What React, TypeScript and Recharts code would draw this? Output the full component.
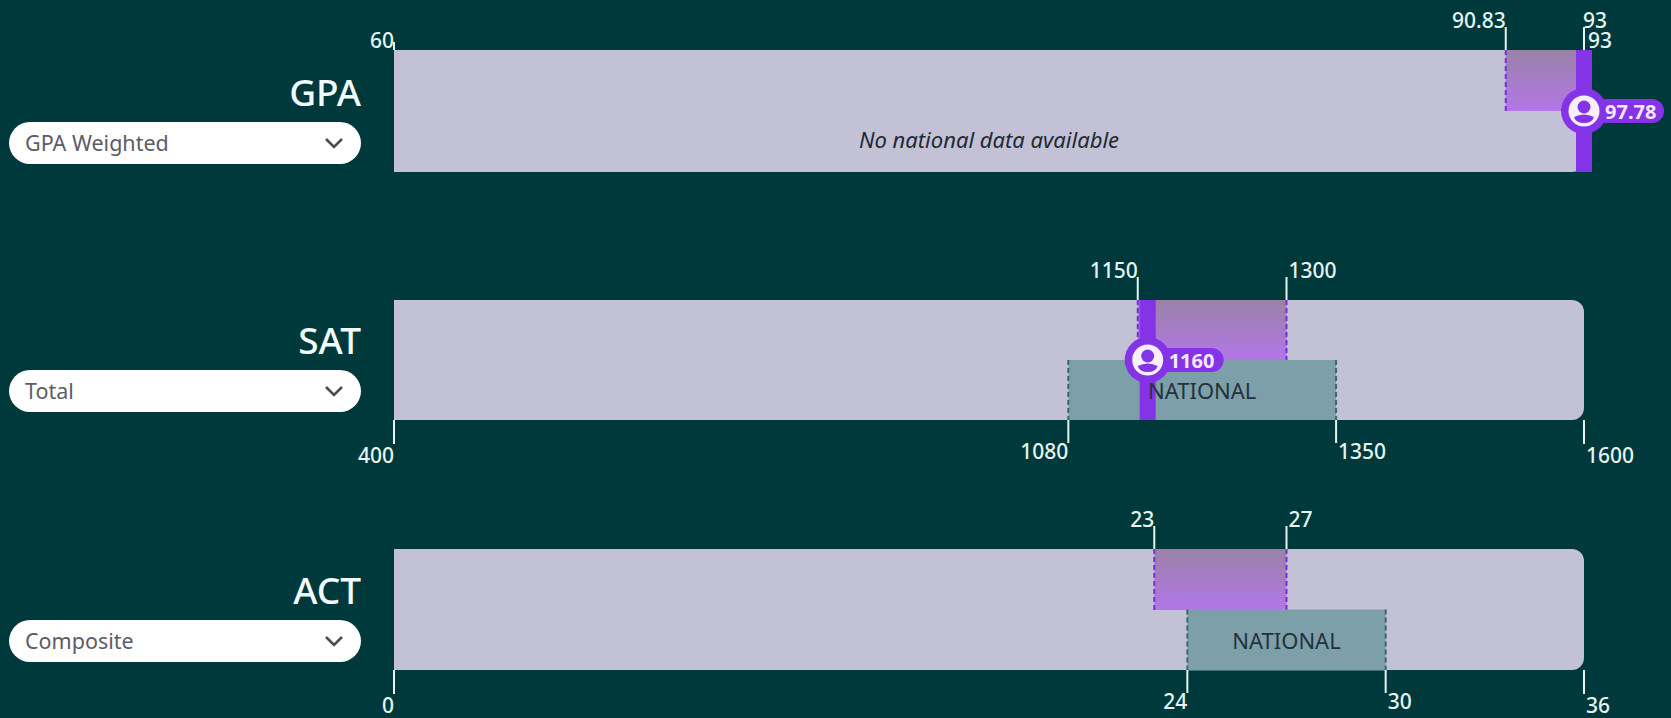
import { BarChart, Bar, XAxis, YAxis, ReferenceArea, ReferenceLine, Rectangle, LabelList } from 'recharts'

const rowNames = ['GPA', 'SAT', 'ACT']
const selectLabels = ['GPA Weighted', 'Total', 'Composite']
const topDomains = [[60, 93], [400, 1600], [0, 36]]
const bottomDomains = [[0.7, 4], [400, 1600], [0, 36]]
const schoolRanges = [[90.83, 93], [1150, 1300], [23, 27]]
const nationalRanges = [null, [1080, 1350], [24, 30]]
const userScores = [97.78, 1160, null]
const topTicks = [[60, 90.83, 93], [1150, 1300], [23, 27]]
const bottomTicks = [[0.7, 4], [400, 1080, 1350, 1600], [0, 24, 30, 36]]
const nationalLabel = 'NATIONAL'
const noNationalNote = 'No national data available'

const trackTops = [50, 300, 549]
const trackHeights = [122, 120, 121]

const FONT = '"Noto Sans", sans-serif'
const BG = '#00393c'
const TICK = '#e4f4ef'
const PURPLE = '#8433e6'
const AXIS_SPACE = 50
const PLOT_LEFT = 394
const PLOT_RIGHT = 1584
const WIDTH = 1671

function tickLabel(x: number, y: number, value: number, anchor: string) {
  return (
    <text x={x} y={y} textAnchor={anchor} dominantBaseline="central" fill={TICK} fontSize={21} fontFamily={FONT} fontWeight={500}>
      {value}
    </text>
  )
}

function TopTick({ x, y, payload, index, domain, count }: any) {
  const bottom = y
  const isMin = payload.value === domain[0]
  const isMax = payload.value === domain[1]
  const left = index < Math.ceil(count / 2)
  return (
    <g>
      <line x1={x} x2={x} y1={bottom} y2={bottom - (isMin ? 8 : 23)} stroke={TICK} strokeWidth={2} />
      {isMax && tickLabel(x - 1, bottom - 30, payload.value, 'start')}
      {isMax && tickLabel(x + 4, bottom - 10, payload.value, 'start')}
      {!isMax && tickLabel(left ? x : x + 2, bottom - (isMin ? 10 : 30), payload.value, left ? 'end' : 'start')}
    </g>
  )
}

function BottomTick({ x, y, payload, index, domain, count }: any) {
  const top = y
  const isEnd = payload.value === domain[0] || payload.value === domain[1]
  const left = index < Math.ceil(count / 2)
  return (
    <g>
      <line x1={x} x2={x} y1={top} y2={top + (isEnd ? 24 : 23)} stroke={TICK} strokeWidth={2} />
      {tickLabel(left ? x : x + 2, top + (isEnd ? 35 : 31), payload.value, left ? 'end' : 'start')}
    </g>
  )
}

function RangeShape({ x, y, width, height, fill, edge }: any) {
  return (
    <g>
      <rect x={x} y={y} width={width} height={height} fill={fill} />
      <line x1={x} x2={x} y1={y} y2={y + height} stroke={edge} strokeWidth={2} strokeDasharray="5 3" />
      <line x1={x + width} x2={x + width} y1={y} y2={y + height} stroke={edge} strokeWidth={2} strokeDasharray="5 3" />
    </g>
  )
}

function UserMarker({ viewBox, value }: any) {
  const cx = viewBox.x
  const cy = viewBox.y + viewBox.height / 2
  const pillWidth = String(value).length > 4 ? 80 : 76
  return (
    <g>
      <rect x={cx} y={cy - 12} width={pillWidth} height={24} rx={12} fill={PURPLE} />
      <circle cx={cx} cy={cy} r={23} fill={PURPLE} />
      <circle cx={cx} cy={cy} r={15.5} fill="#f6effd" />
      <circle cx={cx} cy={cy - 4} r={6.5} fill={PURPLE} />
      <path d={`M ${cx - 10} ${cy + 6} Q ${cx} ${cy + 1} ${cx + 10} ${cy + 6} Q ${cx + 8} ${cy + 12} ${cx} ${cy + 12} Q ${cx - 8} ${cy + 12} ${cx - 10} ${cy + 6} Z`} fill={PURPLE} />
      <text x={cx + 21} y={cy} dominantBaseline="central" fill="#f3e8ff" fontSize={20} fontWeight={700} fontFamily={FONT}>
        {value}
      </text>
    </g>
  )
}

function ScoreRow({ row }: { row: number }) {
  const topDomain = topDomains[row]
  const bottomDomain = bottomDomains[row]
  const national = nationalRanges[row]
  const user = userScores[row]
  const height = trackHeights[row] + AXIS_SPACE * 2
  const data = [
    { band: 'school', school: schoolRanges[row] },
    { band: 'national', national, nationalName: nationalLabel },
  ]

  return (
    <div style={{ position: 'absolute', left: 0, top: trackTops[row] - AXIS_SPACE }}>
      <BarChart
        width={WIDTH}
        height={height}
        data={data}
        layout="vertical"
        barCategoryGap={0}
        barGap={0}
        margin={{ top: 0, bottom: 0, left: PLOT_LEFT, right: WIDTH - PLOT_RIGHT }}
      >
        <defs>
          <linearGradient id={`schoolFill${row}`} x1="0" y1="0" x2="0" y2="1">
            <stop offset="0%" stopColor="#9a82a6" />
            <stop offset="100%" stopColor="#b276e8" />
          </linearGradient>
        </defs>
        <XAxis
          xAxisId="top"
          orientation="top"
          type="number"
          domain={topDomain}
          ticks={topTicks[row]}
          interval={0}
          height={AXIS_SPACE}
          tickSize={0}
          tickMargin={0}
          axisLine={false}
          tick={<TopTick domain={topDomain} count={topTicks[row].length} />}
        />
        <XAxis
          xAxisId="bottom"
          orientation="bottom"
          type="number"
          domain={bottomDomain}
          ticks={bottomTicks[row]}
          interval={0}
          height={AXIS_SPACE}
          tickSize={0}
          tickMargin={0}
          axisLine={false}
          tick={<BottomTick domain={bottomDomain} count={bottomTicks[row].length} />}
        />
        <YAxis yAxisId="school" type="category" dataKey="band" hide />
        <YAxis yAxisId="national" type="category" dataKey="band" hide />
        <ReferenceArea
          xAxisId="top"
          yAxisId="school"
          x1={topDomain[0]}
          x2={topDomain[1]}
          shape={(p: any) => <Rectangle x={p.x} y={p.y} width={p.width} height={p.height} radius={[0, 12, 12, 0]} fill="#c2c1d6" />}
        />
        <Bar
          xAxisId="top"
          yAxisId="school"
          dataKey="school"
          isAnimationActive={false}
          shape={(p: any) => <RangeShape {...p} fill={`url(#schoolFill${row})`} edge="#7a2be0" />}
        />
        {national && (
          <Bar
            xAxisId="bottom"
            yAxisId="national"
            dataKey="national"
            isAnimationActive={false}
            shape={(p: any) => <RangeShape {...p} fill="#7d9faa" edge="#3b6770" />}
          >
            <LabelList dataKey="nationalName" position="center" fill="#22323c" fontSize={22} fontFamily={FONT} dy={1} />
          </Bar>
        )}
        {user != null && (
          <ReferenceLine
            xAxisId="top"
            yAxisId="school"
            x={Math.min(user, topDomain[1])}
            stroke={PURPLE}
            strokeWidth={16}
            label={{ content: (p: any) => <UserMarker {...p} value={user} /> }}
          />
        )}
      </BarChart>
    </div>
  )
}

function RowHeader({ row }: { row: number }) {
  const bottom = trackTops[row] + trackHeights[row]
  return (
    <>
      <div style={{ position: 'absolute', right: WIDTH - 361, top: bottom - 105, fontSize: 37, lineHeight: '50px', color: '#f2fbf9', fontFamily: FONT, fontWeight: 500 }}>
        {rowNames[row]}
      </div>
      <div style={{ position: 'absolute', left: 9, width: 352, top: bottom - 50, height: 42, borderRadius: 21, background: '#fff', fontFamily: FONT, fontSize: 21.5, lineHeight: '41px', color: '#5c5c66' }}>
        <span style={{ marginLeft: 16 }}>{selectLabels[row]}</span>
        <svg width={20} height={12} style={{ position: 'absolute', left: 315, top: 15 }}>
          <path d="M 2 2 L 10 10 L 18 2" fill="none" stroke="#4c4c54" strokeWidth={2.6} />
        </svg>
      </div>
    </>
  )
}

export default function App() {
  return (
    <div style={{ position: 'absolute', left: 0, top: 0, width: WIDTH, height: 718, background: BG, overflow: 'hidden' }}>
      {rowNames.map((_, row) => (
        <ScoreRow key={row} row={row} />
      ))}
      {rowNames.map((_, row) => (
        <RowHeader key={row} row={row} />
      ))}
      {nationalRanges.map((range, row) =>
        range ? null : (
          <div
            key={row}
            style={{
              position: 'absolute',
              left: PLOT_LEFT,
              width: PLOT_RIGHT - PLOT_LEFT,
              top: trackTops[row] + trackHeights[row] / 2 - 2,
              height: trackHeights[row] / 2,
              lineHeight: `${trackHeights[row] / 2}px`,
              textAlign: 'center',
              fontStyle: 'italic',
              fontSize: 22,
              color: '#1f2a33',
              fontFamily: FONT,
            }}
          >
            {noNationalNote}
          </div>
        ),
      )}
    </div>
  )
}
